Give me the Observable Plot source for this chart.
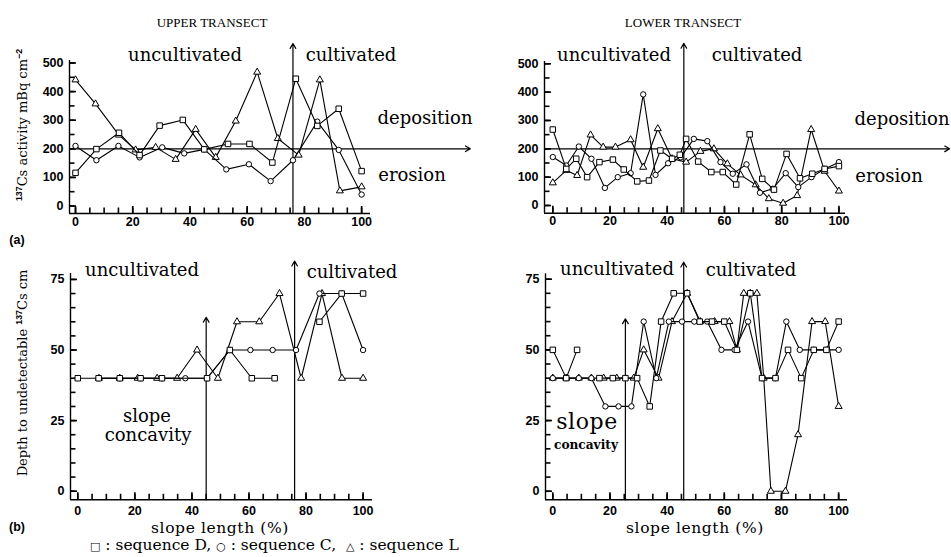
<!DOCTYPE html>
<html><head><meta charset="utf-8">
<script src="https://cdn.jsdelivr.net/npm/d3@7"></script>
<script src="https://cdn.jsdelivr.net/npm/@observablehq/plot@0.6"></script>
<style>
body{margin:0;background:#fff;}
#root{position:relative;width:951px;height:557px;overflow:hidden;font-family:"DejaVu Serif",serif;color:#000;background:#fff;}
.pn{position:absolute;}
.t{position:absolute;white-space:nowrap;transform:translate(-50%,-50%);line-height:1;}
.ann{font-family:"DejaVu Serif",serif;font-size:18px;}
.sup{font-size:0.68em;vertical-align:0.5em;font-family:"Liberation Sans",Arial,sans-serif;font-weight:bold;}
.rot{transform:translate(-50%,-50%) rotate(-90deg);font-size:13px;}
</style></head><body><div id="root"></div>
<script>
// ---------- tick labels ----------
const slopeTicksMinor = [0,5,10,15,20,25,30,35,40,45,50,55,60,65,70,75,80,85,90,95,100];
const slopeTicksMajor = [0,20,40,60,80,100];
const activityTicksMinor = [0,50,100,150,200,250,300,350,400,450,500];
const activityTicksMajor = [0,100,200,300,400,500];
const depthTicksMinor = [0,5,10,15,20,25,30,35,40,45,50,55,60,65,70,75];
const depthTicksMajor = [0,25,50,75];

// ---------- landmarks (slope length %, activity) ----------
const upperBoundary = [76];      // uncultivated / cultivated, upper transect
const upperConcavity = [45];
const lowerBoundary = [45.8];    // lower transect
const lowerConcavity = [25.4];
const referenceActivity = [200]; // deposition / erosion reference

// ---------- (a) 137Cs activity, UPPER transect ----------
const uaD_x = [0, 7.3, 15.2, 22.4, 29.4, 37.5, 45, 53.3, 60.8, 68.8, 77, 84.5, 92, 100];
const uaD_y = [116, 199, 256, 178, 281, 301, 198, 217, 217, 152, 445, 280, 340, 122];
const uaC_x = [0, 7.3, 15, 22.4, 30.3, 38, 45, 52.7, 60.6, 68.2, 76, 84.5, 92, 100];
const uaC_y = [210, 160, 210, 170, 205, 184, 198, 128, 146, 87, 160, 295, 196, 40];
const uaL_x = [0, 7, 15.2, 21, 28, 35, 42, 49, 56, 63.5, 70.7, 78, 85.4, 92.4, 100];
const uaL_y = [441, 357, 248, 196, 205, 163, 268, 170, 297, 468, 236, 178, 441, 53, 67];

// ---------- (a) 137Cs activity, LOWER transect ----------
const laD_x = [0, 4.7, 8.2, 12, 16.3, 21, 24.8, 29.5, 33.6, 37.6, 41.7, 44.4, 46.6, 50.8, 55.4, 59.4, 64.1, 68.8, 73.2, 77.3, 81.7, 86.4, 90.7, 95, 100];
const laD_y = [268, 129, 165, 100, 153, 162, 127, 85, 88, 194, 165, 179, 235, 155, 118, 118, 74, 251, 94, 56, 182, 96, 112, 129, 139];
const laC_x = [0, 4.7, 9.1, 13.5, 18.2, 22.7, 27.2, 31.6, 35.9, 40.3, 44.7, 49.3, 54, 58.6, 62.9, 67.7, 72.4, 76.9, 81.4, 85.8, 90.4, 95, 100];
const laC_y = [171, 141, 208, 165, 62, 100, 114, 392, 108, 149, 170, 235, 227, 153, 112, 145, 45, 59, 114, 65, 100, 129, 153];
const laL_x = [0, 4.7, 8.5, 13.2, 17.6, 21.9, 27.2, 31.6, 36.7, 41.7, 46.6, 51.6, 56.3, 61, 65.6, 70.9, 75.5, 80.5, 85.4, 90.3, 95, 100];
const laL_y = [80, 124, 106, 249, 206, 206, 232, 135, 271, 165, 153, 191, 200, 147, 108, 73, 24, 8, 35, 268, 121, 51];

// ---------- (b) depth to undetectable 137Cs, UPPER transect ----------
const ubD_x = [0, 7.3, 14.7, 22, 29.5, 45.3, 53.3, 61, 69, null, 84.7, 92.5, 100];
const ubD_y = [40, 40, 40, 40, 40, 40, 50, 40, 40, null, 60, 70, 70];
const ubC_x = [7.3, 14.7, 22, 29.5, 37.7, 45.3, 53.3, 60.5, 68.3, 76.5, 84.7, 92.5, 100];
const ubC_y = [40, 40, 40, 40, 40, 40, 50, 50, 50, 50, 70, 70, 50];
const ubL_x = [7.4, 14.7, 21, 27.8, 34.8, 41.8, 49.1, 55.8, 63.6, 70.7, 78.3, 85.6, 92.6, 100];
const ubL_y = [40, 40, 40, 40, 40, 50, 40, 60, 60, 70, 40, 70, 40, 40];

// ---------- (b) depth to undetectable 137Cs, LOWER transect ----------
const lbD_x = [0, 4.7, 8.5, null, 16.3, 21, 25.4, 29.5, 33.9, 37.9, 42.3, 47, 51.4, 55.7, 60, 64.4, 69.1, 73.2, 77.9, 82.3, 86.9, 91.3, 95.7, 100];
const lbD_y = [50, 40, 50, null, 40, 40, 40, 40, 30, 60, 70, 70, 60, 60, 60, 50, 70, 40, 40, 50, 40, 50, 50, 60];
const lbC_x = [0, 4.7, 9.1, 13.5, 18.4, 23, 27.5, 31.8, 36.2, 40.6, 45.2, 49.5, 54, 59, 63.6, 68.3, 73.2, 77.9, 81.7, 86.4, 91.3, 95.7, 100];
const lbC_y = [40, 40, 40, 40, 30, 30, 30, 60, 40, 60, 60, 60, 60, 50, 50, 60, 40, 40, 60, 50, 50, 50, 50];
const lbL_x = [0, 4.7, 9.1, 13.5, 17.8, 22.4, 28.3, 31.8, 37, 41.7, 47, 51.6, 56.6, 61.8, 64.4, 66.8, 69.1, 71.4, 73.8, 76.3, 81.4, 85.8, 90.7, 95.3, 100];
const lbL_y = [40, 40, 40, 40, 40, 40, 40, 50, 40, 60, 70, 60, 60, 60, 50, 70, 70, 70, 40, 0, 0, 20, 60, 60, 30];

const pts = (xs, ys) => xs.map((x, i) => ({x, y: ys[i]}));
const symbols = {D: {symbol: "square", r: 3.1}, C: {symbol: "circle", r: 2.7}, L: {symbol: "triangle", r: 2.6}};

const root = document.getElementById("root");

function panel(cfg) {
  const {left, top, width, height, frame, xDom, yDom, yMinor, yMajor, series, vArrows, hArrow, xLabelGap} = cfg;
  const fw = frame.r - frame.l, fh = frame.b - frame.t;
  // pixel lengths of inward ticks converted to data units
  const xPerPx = (xDom[1] - xDom[0]) / fw, yPerPx = (yDom[1] - yDom[0]) / fh;
  const tk = {stroke: "black", strokeWidth: 1.6};
  const marks = [
    Plot.ruleX(slopeTicksMinor, {x: d => d, y1: () => yDom[0], y2: () => yDom[0] + 5.5 * yPerPx, ...tk}),
    Plot.ruleX(slopeTicksMajor, {x: d => d, y1: () => yDom[0], y2: () => yDom[0] + 7 * yPerPx, ...tk}),
    Plot.ruleY(yMinor, {y: d => d, x1: () => xDom[0], x2: () => xDom[0] + 5.5 * xPerPx, ...tk}),
    Plot.ruleY(yMajor, {y: d => d, x1: () => xDom[0], x2: () => xDom[0] + 7 * xPerPx, ...tk}),
    // axis lines
    Plot.ruleY([yDom[0]], {stroke: "black", strokeWidth: 1.4}),
    Plot.ruleX([xDom[0]], {stroke: "black", strokeWidth: 1.4}),
    // labels
    Plot.axisX({ticks: slopeTicksMajor, tickSize: 0, tickPadding: xLabelGap, label: null}),
    Plot.axisY({ticks: yMajor, tickSize: 0, tickPadding: 6, label: null})
  ];
  for (const a of vArrows) {
    marks.push(Plot.arrow(a.at, {x1: d => d, x2: d => d, y1: yDom[0], y2: a.top, stroke: "black", strokeWidth: 1.2, headLength: 7}));
  }
  if (hArrow) {
    marks.push(Plot.arrow(referenceActivity, {x1: xDom[0], x2: hArrow, y1: d => d, y2: d => d, stroke: "black", strokeWidth: 1.2, headLength: 7}));
  }
  for (const s of series) {
    const data = pts(s.x, s.y);
    marks.push(Plot.line(data, {x: "x", y: "y", stroke: "black", strokeWidth: 1.1}));
    marks.push(Plot.dot(data, {x: "x", y: "y", symbol: symbols[s.k].symbol, r: symbols[s.k].r, fill: "white", stroke: "black", strokeWidth: 1}));
  }
  const svg = Plot.plot({
    width, height,
    marginLeft: frame.l - left, marginRight: left + width - frame.r,
    marginTop: frame.t - top, marginBottom: top + height - frame.b,
    x: {domain: xDom}, y: {domain: yDom},
    style: {background: "transparent", fontFamily: "'Liberation Sans', Arial, sans-serif", fontSize: "12.5px", fontWeight: "bold", color: "black"},
    marks
  });
  const wrap = document.createElement("div");
  wrap.className = "pn";
  wrap.style.left = left + "px"; wrap.style.top = top + "px";
  wrap.appendChild(svg);
  root.appendChild(wrap);
}

panel({left: 0, top: 0, width: 500, height: 245, frame: {l: 69, r: 370, t: 60, b: 213},
  xDom: [-2.1, 103.1], yDom: [-26.2, 508.7], yMinor: activityTicksMinor, yMajor: activityTicksMajor, xLabelGap: 4,
  series: [{k: "L", x: uaL_x, y: uaL_y}, {k: "C", x: uaC_x, y: uaC_y}, {k: "D", x: uaD_x, y: uaD_y}],
  vArrows: [{at: upperBoundary, top: 568}], hArrow: 138});

panel({left: 500, top: 0, width: 451, height: 245, frame: {l: 544, r: 845, t: 61, b: 212.7},
  xDom: [-2.9, 102.3], yDom: [-27.2, 508.1], yMinor: activityTicksMinor, yMajor: activityTicksMajor, xLabelGap: 3,
  series: [{k: "L", x: laL_x, y: laL_y}, {k: "C", x: laC_x, y: laC_y}, {k: "D", x: laD_x, y: laD_y}],
  vArrows: [{at: lowerBoundary, top: 572}], hArrow: 138.7});

panel({left: 0, top: 245, width: 500, height: 300, frame: {l: 70, r: 372, t: 273, b: 499.3},
  xDom: [-2.56, 103.3], yDom: [-3.05, 77.1], yMinor: depthTicksMinor, yMajor: depthTicksMajor, xLabelGap: 6,
  series: [{k: "L", x: ubL_x, y: ubL_y}, {k: "C", x: ubC_x, y: ubC_y}, {k: "D", x: ubD_x, y: ubD_y}],
  vArrows: [{at: upperConcavity, top: 61.6}, {at: upperBoundary, top: 81.5}], hArrow: null});

panel({left: 500, top: 245, width: 451, height: 300, frame: {l: 545, r: 847, t: 273.3, b: 499.3},
  xDom: [-2.55, 103.1], yDom: [-3.03, 76.9], yMinor: depthTicksMinor, yMajor: depthTicksMajor, xLabelGap: 6,
  series: [{k: "L", x: lbL_x, y: lbL_y}, {k: "C", x: lbC_x, y: lbC_y}, {k: "D", x: lbD_x, y: lbD_y}],
  vArrows: [{at: lowerConcavity, top: 61}, {at: lowerBoundary, top: 81}], hArrow: null});

// ---------- text ----------
function txt(html, x, y, cls, extra) {
  const d = document.createElement("div");
  d.className = "t " + (cls || "");
  d.innerHTML = html;
  d.style.left = x + "px"; d.style.top = y + "px";
  if (extra) Object.assign(d.style, extra);
  root.appendChild(d);
  return d;
}
const titleStyle = {fontFamily: "'Liberation Serif', serif", fontSize: "13px"};
txt("UPPER TRANSECT", 212, 22, "", titleStyle);
txt("LOWER TRANSECT", 683, 22, "", titleStyle);

txt("uncultivated", 185, 55, "ann");
txt("cultivated", 351, 55, "ann");
txt("deposition", 425, 118, "ann");
txt("erosion", 412, 175, "ann");

txt("uncultivated", 614, 55, "ann");
txt("cultivated", 757, 55, "ann");
txt("deposition", 902, 119, "ann");
txt("erosion", 889, 176, "ann");

txt("uncultivated", 142, 270, "ann");
txt("cultivated", 352, 272, "ann");
txt("slope", 147, 416, "ann");
txt("concavity", 148, 435, "ann");

txt("uncultivated", 617, 269, "ann");
txt("cultivated", 751, 270, "ann");
txt("slope", 587, 422, "ann", {fontSize: "22px", letterSpacing: "0.6px"});
txt("concavity", 586, 445, "", {fontFamily: "'DejaVu Serif Condensed','Liberation Serif',serif", fontStretch: "condensed", fontWeight: "bold", fontSize: "13.5px"});

txt('<span class="sup">137</span>Cs activity mBq cm<span class="sup">&minus;2</span>', 22, 125, "rot");
txt('Depth to undetectable <span class="sup">137</span>Cs cm', 22, 373, "rot");

const tagStyle = {fontFamily: "'Liberation Sans', Arial, sans-serif", fontWeight: "bold", fontSize: "12.5px"};
txt("(a)", 17, 240, "", tagStyle);
txt("(b)", 17, 527, "", tagStyle);

txt("slope length (%)", 220, 529, "ann", {fontSize: "15.5px", letterSpacing: "0.6px"});
txt("slope length (%)", 695, 529, "ann", {fontSize: "15.5px", letterSpacing: "0.6px"});

txt('<span style="font-size:11px">&#9633;</span> : sequence D, <span style="font-size:11px">&#9675;</span> : sequence C, &nbsp;<span style="font-size:11px">&#9651;</span> : sequence L', 0, 546, "", {fontSize: "15.5px", transform: "translate(0,-50%)", left: "90px"});
</script>
</body></html>
